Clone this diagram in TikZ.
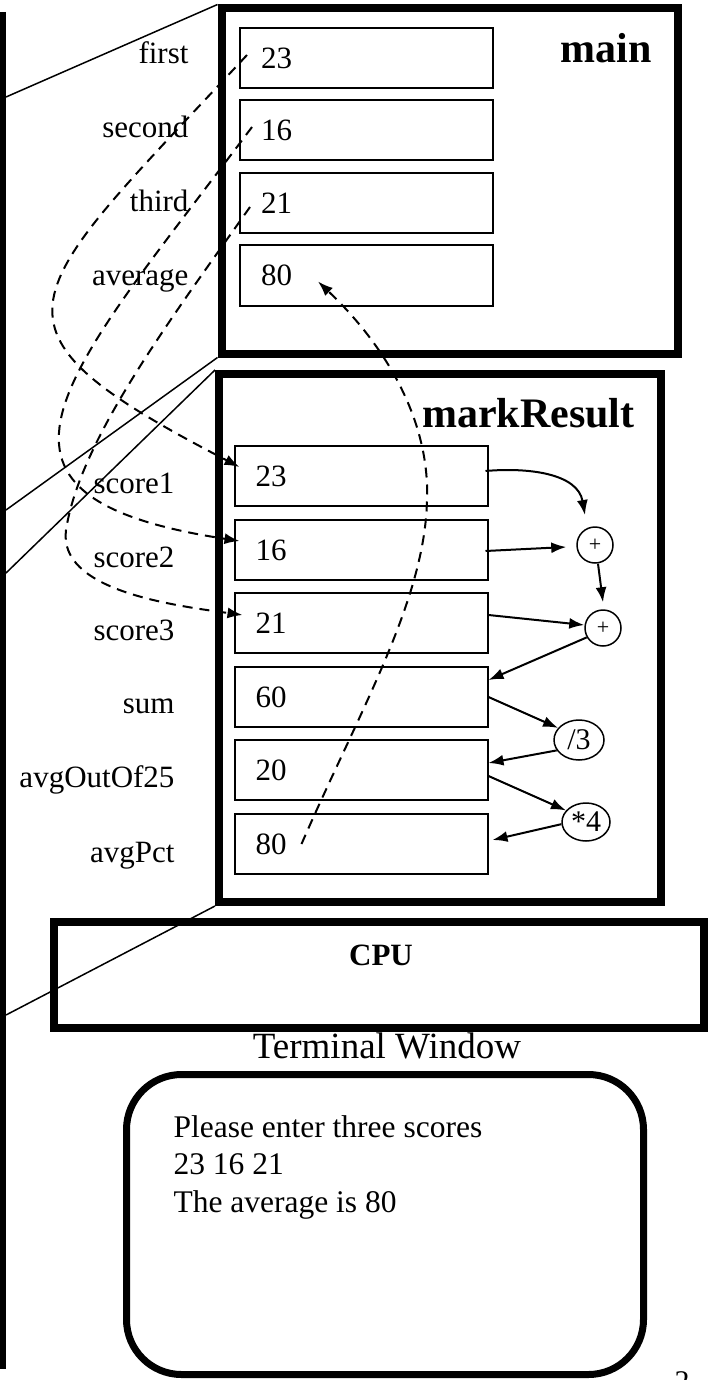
\documentclass[tikz,border=0pt]{standalone}
\usepackage{fontspec}
\setmainfont{Liberation Serif}
\usetikzlibrary{arrows.meta,shapes.geometric}

\begin{document}
\begin{tikzpicture}[x=1pt,y=-1pt,
    frame/.style = {draw, line width=8pt},
    cell/.style = {draw, line width=2pt, minimum height=60pt, text width=211pt, inner xsep=21pt, align=left, font=\fontsize{31}{36}\selectfont},
    var/.style = {anchor=base east, font=\fontsize{31}{36}\selectfont},
    op/.style = {draw, line width=1.5pt, inner sep=0pt, font=\fontsize{30}{36}\selectfont},
    arr/.style = {line width=2pt, -{Latex[length=15pt,width=11pt]}},
    flow/.style = {arr, dash pattern=on 10pt off 7pt},
    wire/.style = {line width=1.5pt}]
    \useasboundingbox (0,0) rectangle (708,1380);

    \draw[line width=6pt] (3,12) -- (3,1369);
    \coordinate (w1) at (6,97);
    \coordinate (w2) at (6,510);
    \coordinate (w3) at (6,573);
    \coordinate (w4) at (6,1015);

    \node[frame, minimum width=456pt, minimum height=345pt] (main) at (449.5,181) {};
    \node[frame, minimum width=442pt, minimum height=528pt] (mark) at (440,638) {};
    \node[frame, minimum width=650pt, minimum height=106pt] (cpu) at (379,975) {};
    \node[draw, line width=7pt, rounded corners=55pt, minimum width=517pt, minimum height=300pt] (term) at (385,1224.5) {};

    \node[anchor=base east, font=\fontsize{42}{48}\selectfont\bfseries] (maint) at (655,63) {main};
    \node[anchor=base east, font=\fontsize{42}{48}\selectfont\bfseries] (markt) at (638,427) {markResult};
    \node[anchor=base, font=\fontsize{31}{36}\selectfont\bfseries] (cput) at (381,965) {CPU};
    \node[anchor=base, font=\fontsize{37}{42}\selectfont] (termt) at (387,1058) {Terminal Window};

    \node[var] (l1) at (192,64) {first};
    \node[var] (l2) at (192,138) {second};
    \node[var] (l3) at (192,212) {third};
    \node[var] (l4) at (192,285) {average};
    \node[cell] (m1) at (366.5,58) {23};
    \node[cell] (m2) at (366.5,130) {16};
    \node[cell] (m3) at (366.5,203) {21};
    \node[cell] (m4) at (366.5,275.5) {80};

    \node[var] (k1) at (178,493) {score1};
    \node[var] (k2) at (178,567) {score2};
    \node[var] (k3) at (178,640) {score3};
    \node[var] (k4) at (178,713) {sum};
    \node[var] (k5) at (178,787) {avgOutOf25};
    \node[var] (k6) at (178,862) {avgPct};
    \node[cell] (s1) at (361,476) {23};
    \node[cell] (s2) at (361,550) {16};
    \node[cell] (s3) at (361,623) {21};
    \node[cell] (sm) at (361,697) {60};
    \node[cell] (ag) at (361,770) {20};
    \node[cell] (pc) at (361,844) {80};

    \node[op, circle, minimum size=36pt, font=\fontsize{22}{24}\selectfont] (plus1) at (595,545) {+};
    \node[op, circle, minimum size=36pt, font=\fontsize{22}{24}\selectfont] (plus2) at (603,628) {+};
    \node[op, ellipse, minimum width=50pt, minimum height=40pt] (div) at (579,740) {/3};
    \node[op, ellipse, minimum width=48pt, minimum height=38pt] (mul) at (586,822) {*4};

    \node[anchor=base west, font=\fontsize{31.5}{36}\selectfont] (out1) at (170,1137) {Please enter three scores};
    \node[anchor=base west, font=\fontsize{31.5}{36}\selectfont] (out2) at (170,1174) {23 16 21};
    \node[anchor=base west, font=\fontsize{31.5}{36}\selectfont] (out3) at (170,1212) {The average is 80};
    \node[anchor=base west, font=\fontsize{30}{36}\selectfont] (pg) at (671,1391) {2};

    \draw[wire] (w1) -- (main.north west);
    \draw[wire] (w2) -- (main.south west);
    \draw[wire] (w3) -- (mark.north west);
    \draw[wire] (w4) -- (mark.south west);

    \draw[arr] ([xshift=-3pt,yshift=5pt]s1.east) to[out=5,in=100] ([xshift=-10pt,yshift=30pt]plus1.center);
    \draw[arr] ([xshift=-3pt,yshift=-1pt]s2.east) -- ([xshift=-10pt,yshift=-2pt]plus1.west);
    \draw[arr] ([xshift=3pt]plus1.south) -- ([yshift=7pt]plus2.north);
    \draw[arr] ([yshift=8pt]s3.east) -- ([yshift=3pt]plus2.west);
    \draw[arr] (plus2.210) -- ([yshift=17pt]sm.east);
    \draw[arr] (sm.east) -- (div.150);
    \draw[arr] (div.205) -- ([yshift=7pt]ag.east);
    \draw[arr] ([yshift=-6pt]ag.east) -- (mul.150);
    \draw[arr] (mul.185) -- ([xshift=4pt,yshift=4pt]pc.east);

    \draw[flow] ([xshift=8pt,yshift=3pt]m1.west) .. controls (18,301) and (-34,325) .. ([xshift=6pt,yshift=9pt]s1.west);
    \draw[flow] ([xshift=13pt,yshift=3pt]m2.west) .. controls (66,375) and (-57,496) .. ([xshift=6pt,yshift=9pt]s2.west);
    \draw[flow] ([xshift=11pt,yshift=-4pt]m3.west) .. controls (170,320) and (80,440) .. (66,530) .. controls (58,590) and (170,605) .. ([xshift=9pt,yshift=8pt]s3.west);
    \draw[flow] ([xshift=68pt]pc.west) .. controls (360,710) and (425,600) .. (427,500) .. controls (430,420) and (385,345) .. ([xshift=79pt,yshift=-6pt]m4.west);
\end{tikzpicture}
\end{document}
